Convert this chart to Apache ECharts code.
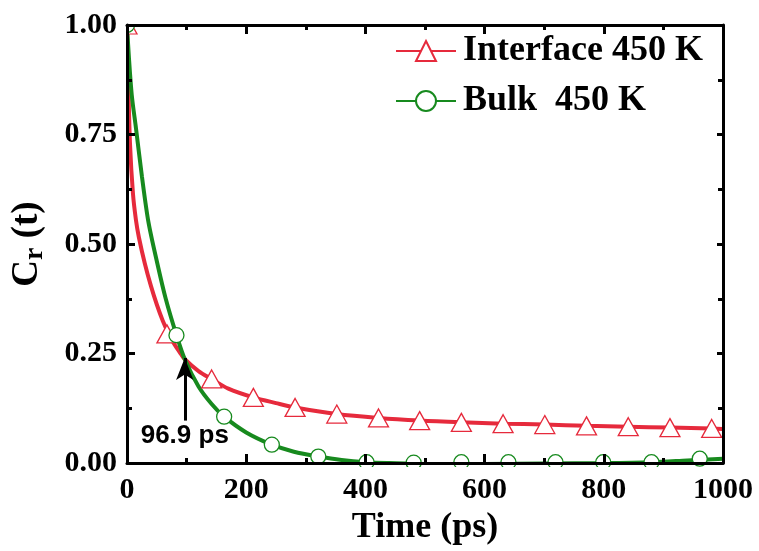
<!DOCTYPE html>
<html><head><meta charset="utf-8">
<script src="https://cdn.jsdelivr.net/npm/echarts@6/dist/echarts.min.js"></script>
<style>html,body{margin:0;padding:0;background:#fff}#c{width:759px;height:551px}</style>
</head><body><div id="c"></div>
<script>
// ---- data ----
const interfaceCurveT = [0, 2, 5, 10, 15, 20, 30, 40, 50, 60, 70, 80, 90, 97, 120, 142, 170, 212, 250, 282, 352, 422, 491, 561, 631, 701, 771, 841, 911, 981, 1000];
const interfaceCurveC = [1.0, 0.88, 0.73, 0.615, 0.555, 0.515, 0.455, 0.405, 0.362, 0.325, 0.295, 0.27, 0.25, 0.237, 0.21, 0.192, 0.17, 0.150, 0.137, 0.127, 0.112, 0.103, 0.097, 0.093, 0.090, 0.088, 0.085, 0.083, 0.081, 0.079, 0.078];
const interfaceMarkT = [0, 67, 142, 212, 282, 352, 422, 491, 561, 631, 701, 771, 841, 911, 981];
const interfaceMarkC = [1.0, 0.295, 0.192, 0.150, 0.127, 0.112, 0.103, 0.097, 0.093, 0.090, 0.088, 0.085, 0.083, 0.081, 0.079];

const bulkCurveT = [0, 3, 8, 15, 25, 36, 51, 65, 83, 97, 120, 142, 163, 200, 243, 280, 321, 360, 402, 440, 500, 600, 700, 800, 880, 940, 1000];
const bulkCurveC = [1.0, 0.93, 0.84, 0.765, 0.655, 0.55, 0.455, 0.375, 0.292, 0.237, 0.175, 0.135, 0.106, 0.07, 0.042, 0.026, 0.015, 0.007, 0.002, 0.0, -0.002, -0.002, -0.001, 0.0, 0.002, 0.006, 0.01];
const bulkMarkT = [0, 83, 163, 243, 321, 402, 481, 561, 640, 719, 799, 880, 961];
const bulkMarkC = [1.0, 0.292, 0.106, 0.042, 0.015, 0.002, 0.001, 0.002, 0.002, 0.002, 0.002, 0.002, 0.01];

const crossingTime = 96.9;
const arrowFromC = 0.097;
const arrowToC = 0.240;
const crossingLabel = '96.9 ps';

const seriesNames = ['Interface 450 K', 'Bulk  450 K'];
const xTitle = 'Time (ps)';

// ---- chart ----
const zip = (a, b) => a.map((v, i) => [v, b[i]]);
const RED = '#e62a3c', GREEN = '#178a1e';
const SERIF = '"Liberation Serif", "Times New Roman", serif';

const tickStyle = {lineStyle: {color: '#000', width: 3}};
function xAx(pos, showLabel) {
  return {
    type: 'value', min: 0, max: 1000, interval: 200, position: pos, z: 10,
    axisLine: {onZero: false, lineStyle: {color: '#000', width: 3}},
    axisTick: Object.assign({inside: true, length: 9}, tickStyle),
    minorTick: Object.assign({show: true, splitNumber: 2, length: 5}, tickStyle),
    splitLine: {show: false}, minorSplitLine: {show: false},
    axisLabel: {show: showLabel, fontFamily: SERIF, fontWeight: 'bold', fontSize: 30, color: '#000', margin: 12,
      formatter: v => String(v)},
    name: showLabel ? xTitle : '', nameLocation: 'middle', nameGap: 43,
    nameTextStyle: {fontFamily: SERIF, fontWeight: 'bold', fontSize: 36, color: '#000'}
  };
}
function yAx(pos, showLabel) {
  return {
    type: 'value', min: 0, max: 1, interval: 0.25, position: pos, z: 10,
    axisLine: {onZero: false, lineStyle: {color: '#000', width: 3}},
    axisTick: Object.assign({inside: true, length: showLabel ? 8 : 6}, tickStyle),
    minorTick: Object.assign({show: true, splitNumber: 2, length: 5}, tickStyle),
    splitLine: {show: false}, minorSplitLine: {show: false},
    axisLabel: {show: showLabel, fontFamily: SERIF, fontWeight: 'bold', fontSize: 30, color: '#000', margin: 10,
      formatter: v => v.toFixed(2)},
    name: showLabel ? '{c|C}{r|r}{c| (t)}' : '', nameLocation: 'middle', nameGap: 78,
    nameTextStyle: {fontFamily: SERIF, fontWeight: 'bold', fontSize: 36, color: '#000',
      rich: {
        c: {fontFamily: SERIF, fontWeight: 'bold', fontSize: 37, lineHeight: 44, color: '#000'},
        r: {fontFamily: SERIF, fontWeight: 'bold', fontSize: 28, lineHeight: 26, verticalAlign: 'bottom', color: '#000'}
      }}
  };
}

function lineSeries(name, t, c, color, symbol) {
  return {
    name: name, type: 'line', data: zip(t, c), smooth: 0.3,
    showSymbol: false, symbol: symbol, clip: true,
    lineStyle: {color: color, width: 4},
    itemStyle: {color: '#fff', borderColor: color, borderWidth: 1.3},
    z: 2
  };
}
function markSeries(name, t, c, color, symbol, size) {
  return {
    name: name, type: 'scatter', data: zip(t, c), symbol: symbol, symbolSize: size,
    itemStyle: {color: '#fff', borderColor: color, borderWidth: 1.3, opacity: 1},
    z: 3, silent: true
  };
}

const redLine = lineSeries(seriesNames[0], interfaceCurveT, interfaceCurveC, RED, 'triangle');
redLine.markLine = {
  silent: true, symbol: ['none', 'arrow'], symbolSize: [13, 22],
  lineStyle: {color: '#000', width: 3, type: 'solid'},
  label: {show: true, position: 'start', formatter: crossingLabel, distance: 2,
    fontFamily: '"Liberation Sans", Arial, sans-serif', fontWeight: 'bold', fontSize: 26, color: '#000'},
  data: [[{coord: [crossingTime, arrowFromC]}, {coord: [crossingTime, arrowToC]}]]
};

const chart = echarts.init(document.getElementById('c'));
chart.setOption({
  animation: false,
  backgroundColor: '#fff',
  grid: {left: 127, right: 36, top: 25, bottom: 85, show: false},
  xAxis: [xAx('bottom', true), xAx('top', false)],
  yAxis: [yAx('left', true), yAx('right', false)],
  legend: {
    data: seriesNames, left: 390, top: 28, orient: 'vertical',
    itemWidth: 60, itemHeight: 25, itemGap: 14,
    textStyle: {fontFamily: SERIF, fontWeight: 'bold', fontSize: 36, color: '#000', lineHeight: 36, padding: [0, 0, 0, 2]}
  },
  graphic: [
    {type: 'rect', shape: {x: 95, y: 467, width: 660, height: 13}, style: {fill: '#fff'}, z: 5, silent: true},
    {type: 'rect', shape: {x: 95, y: 0, width: 660, height: 24}, style: {fill: '#fff'}, z: 5, silent: true},
    {type: 'rect', shape: {x: 110, y: 0, width: 16, height: 480}, style: {fill: '#fff'}, z: 5, silent: true},
    {type: 'rect', shape: {x: 724, y: 0, width: 35, height: 480}, style: {fill: '#fff'}, z: 5, silent: true}
  ],
  series: [
    redLine,
    lineSeries(seriesNames[1], bulkCurveT, bulkCurveC, GREEN, 'circle'),
    markSeries('imark', interfaceMarkT, interfaceMarkC, RED, 'triangle', [20, 18]),
    markSeries('bmark', bulkMarkT, bulkMarkC, GREEN, 'circle', 15)
  ]
});
</script>
</body></html>
